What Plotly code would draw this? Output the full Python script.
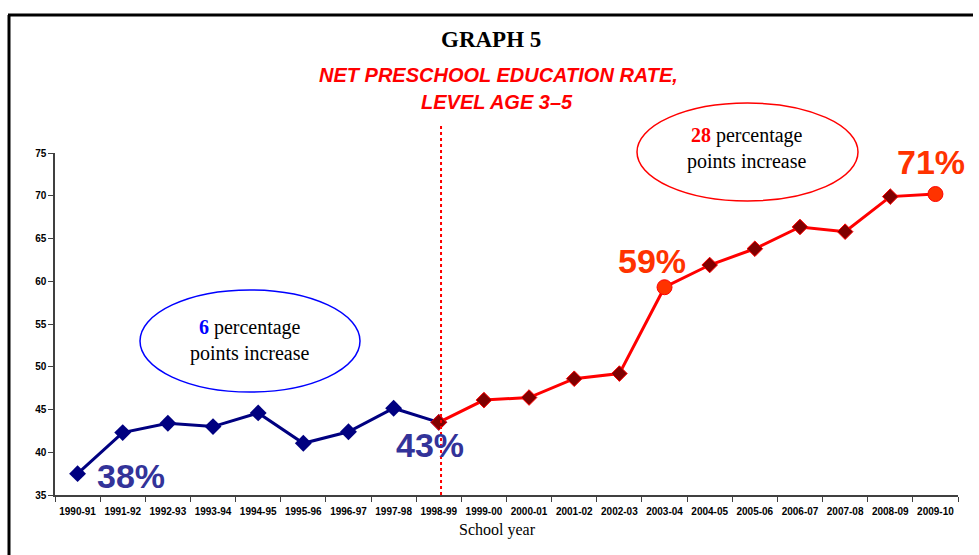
import plotly.graph_objects as go

years = ["1990-91", "1991-92", "1992-93", "1993-94", "1994-95", "1995-96", "1996-97",
         "1997-98", "1998-99", "1999-00", "2000-01", "2001-02", "2002-03", "2003-04",
         "2004-05", "2005-06", "2006-07", "2007-08", "2008-09", "2009-10"]
rates = [37.5, 42.3, 43.4, 43.0, 44.6, 41.05, 42.4, 45.15, 43.5, 46.1, 46.4, 48.6,
         49.2, 59.3, 61.9, 63.8, 66.35, 65.8, 69.9, 70.2]
split_idx = 8          # 1998-99, the break between the two periods
highlight_idx = [13, 19]  # 2003-04 and 2009-10
y_ticks = [35, 40, 45, 50, 55, 60, 65, 70, 75]

# plot area in pixels (for paper conversions of decorations)
W, H = 979, 555
L, R, T, B = 55, 21, 153, 60
PW, PH = W - L - R, H - T - B

def px(x):
    return (x - L) / PW

def py(y):
    return (H - B - y) / PH

fig = go.Figure()

# blue series
fig.add_trace(go.Scatter(
    x=years[:split_idx + 1], y=rates[:split_idx + 1], mode="lines+markers",
    line=dict(color="#000080", width=3),
    marker=dict(symbol="diamond", size=13, color="#000080", opacity=1),
    showlegend=False, hoverinfo="x+y"))

# red series
n_red = len(years) - split_idx
red_colors = ["#800000"] * n_red
red_sizes = [12] * n_red
for i in highlight_idx:
    red_colors[i - split_idx] = "#FF3300"
    red_sizes[i - split_idx] = 15
red_symbols = ["circle" if (split_idx + k) in highlight_idx else "diamond"
               for k in range(n_red)]
fig.add_trace(go.Scatter(
    x=years[split_idx:], y=rates[split_idx:], mode="lines+markers",
    line=dict(color="#FF0000", width=3),
    marker=dict(symbol=red_symbols, size=red_sizes, color=red_colors, opacity=1),
    showlegend=False, hoverinfo="x+y"))

# vertical dotted separator
fig.add_shape(type="line", xref="x", yref="paper", x0=split_idx + 0.05, x1=split_idx + 0.05,
              y0=0, y1=py(125), line=dict(color="#FF0000", width=2, dash="dot"))

# ellipses
fig.add_shape(type="circle", xref="paper", yref="paper",
              x0=px(140), x1=px(360), y0=py(392), y1=py(290),
              line=dict(color="#0000FF", width=1.5))
fig.add_shape(type="circle", xref="paper", yref="paper",
              x0=px(637), x1=px(858), y0=py(201), y1=py(103),
              line=dict(color="#FF0000", width=1.5))

# frame
fig.add_shape(type="line", xref="paper", yref="paper", x0=px(8), x1=px(973),
              y0=py(15), y1=py(15), line=dict(color="black", width=3))
fig.add_shape(type="line", xref="paper", yref="paper", x0=px(9), x1=px(9),
              y0=py(15), y1=py(556), line=dict(color="black", width=3))

serif = "Liberation Serif, Times New Roman, serif"
sans = "Liberation Sans, Arial, sans-serif"


def note(x, y, text, family, size, color):
    return dict(xref="paper", yref="paper", x=px(x), y=py(y), text=text,
                xanchor="center", yanchor="middle", showarrow=False, align="center",
                font=dict(family=family, size=size, color=color))


ann = [
    note(491, 40, "<b>GRAPH 5</b>", serif, 23, "black"),
    note(498, 75, "<b><i>NET PRESCHOOL EDUCATION RATE,</i></b>", sans, 20, "#FF0000"),
    note(497, 102, "<b><i>LEVEL AGE 3–5</i></b>", sans, 20, "#FF0000"),
    note(250, 340, "<b><span style='color:#0000FF'>6</span></b> percentage<br>points increase",
         serif, 20, "black"),
    note(747, 149, "<b><span style='color:#FF0000'>28</span></b> percentage<br>points increase",
         serif, 20, "black"),
    note(131, 476, "<b>38%</b>", sans, 34, "#333399"),
    note(430, 445, "<b>43%</b>", sans, 34, "#333399"),
    note(652, 261, "<b>59%</b>", sans, 34, "#FF3300"),
    note(931, 162, "<b>71%</b>", sans, 34, "#FF3300"),
    note(497, 530, "School year", serif, 16, "black"),
]

fig.update_layout(
    width=W, height=H,
    margin=dict(l=L, r=R, t=T, b=B),
    paper_bgcolor="white", plot_bgcolor="white",
    annotations=ann,
    xaxis=dict(type="category", categoryorder="array", categoryarray=years,
               tickson="boundaries", ticks="outside", ticklen=5, tickcolor="#404040",
               ticklabelstandoff=6,
               showline=True, linecolor="#404040", linewidth=1.5, showgrid=False,
               tickfont=dict(family=sans, size=10, color="black", weight="bold"),
               tickangle=0, range=[-0.5, len(years) - 0.5], fixedrange=True),
    yaxis=dict(range=[35, 75], tickvals=y_ticks, ticks="outside", ticklen=5,
               tickcolor="#404040", showline=True, linecolor="#404040", linewidth=1.5,
               showgrid=False, zeroline=False,
               tickfont=dict(family=sans, size=10, color="black", weight="bold")),
)

fig.write_html("out.html", config={"displayModeBar": False},
               post_script="document.body.style.margin='0';")
